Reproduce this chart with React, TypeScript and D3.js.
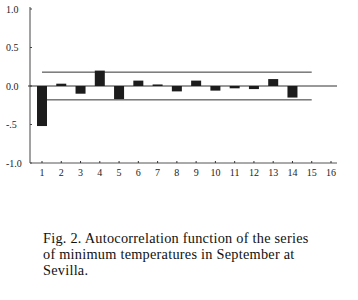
import React from "react";
import * as d3 from "d3";

// autocorrelation per lag
const lags = [1, 2, 3, 4, 5, 6, 7, 8, 9, 10, 11, 12, 13, 14, 15, 16];
const acf = [-0.52, 0.03, -0.1, 0.2, -0.17, 0.07, 0.02, -0.07, 0.07, -0.06, -0.03, -0.04, 0.09, -0.15];
const yTicks = [1.0, 0.5, 0.0, -0.5, -1.0];
const yTickLabels = ["1.0", "0.5", "0.0", "-.5", "-1.0"];
const confLimit = 0.18;
const caption = [
  "Fig. 2. Autocorrelation function of the series",
  "of minimum temperatures in September at",
  "Sevilla.",
];

export default function App() {
  const width = 358;
  const height = 300;

  const x = d3.scaleLinear().domain([1, 16]).range([42, 331]);
  const y = d3.scaleLinear().domain([-1, 1]).range([163, 9]);
  const barW = 10;
  const ink = "#1c1c1c";
  const font = "'Liberation Serif', 'Times New Roman', serif";

  return (
    <svg
      width={width}
      height={height}
      style={{ position: "absolute", left: 0, top: 0, background: "#fff" }}
    >
      {/* y axis */}
      <line x1={30} x2={30} y1={y(1) - 2} y2={y(-1)} stroke="#444" strokeWidth={1} />
      {yTicks.map((t, i) => (
        <g key={t}>
          <line x1={30} x2={32} y1={y(t)} y2={y(t)} stroke="#444" />
          <text
            x={6}
            y={y(t) + 3.5}
            fontFamily={font}
            fontSize={10}
            fill="#222"
          >
            {yTickLabels[i]}
          </text>
        </g>
      ))}

      {/* x axis */}
      <line x1={30} x2={337} y1={y(-1)} y2={y(-1)} stroke="#555" strokeWidth={1} />
      {lags.map((l) => (
        <g key={l}>
          <line x1={x(l)} x2={x(l)} y1={y(-1)} y2={y(-1) - 2} stroke="#333" />
          <text
            x={x(l)}
            y={y(-1) + 13}
            textAnchor="middle"
            fontFamily={font}
            fontSize={10}
            fill="#222"
          >
            {l}
          </text>
        </g>
      ))}

      {/* zero line */}
      <line x1={28} x2={337} y1={y(0)} y2={y(0)} stroke="#333" strokeWidth={1} />

      {/* confidence limits */}
      <line x1={x(1)} x2={x(15)} y1={y(confLimit)} y2={y(confLimit)} stroke="#333" strokeWidth={1} />
      <line x1={x(1) + barW / 2} x2={x(15)} y1={y(-confLimit)} y2={y(-confLimit)} stroke="#333" strokeWidth={1} />

      {/* bars */}
      {acf.map((v, i) => (
        <rect
          key={i}
          x={x(lags[i]) - barW / 2}
          y={Math.min(y(v), y(0))}
          width={barW}
          height={Math.abs(y(v) - y(0))}
          fill={ink}
        />
      ))}

      {/* caption */}
      {caption.map((line, i) => (
        <text
          key={i}
          x={43}
          y={242.5 + i * 16}
          fontFamily={font}
          fontSize={14.3}
          letterSpacing={0.25}
          fill="#111"
        >
          {line}
        </text>
      ))}
    </svg>
  );
}
